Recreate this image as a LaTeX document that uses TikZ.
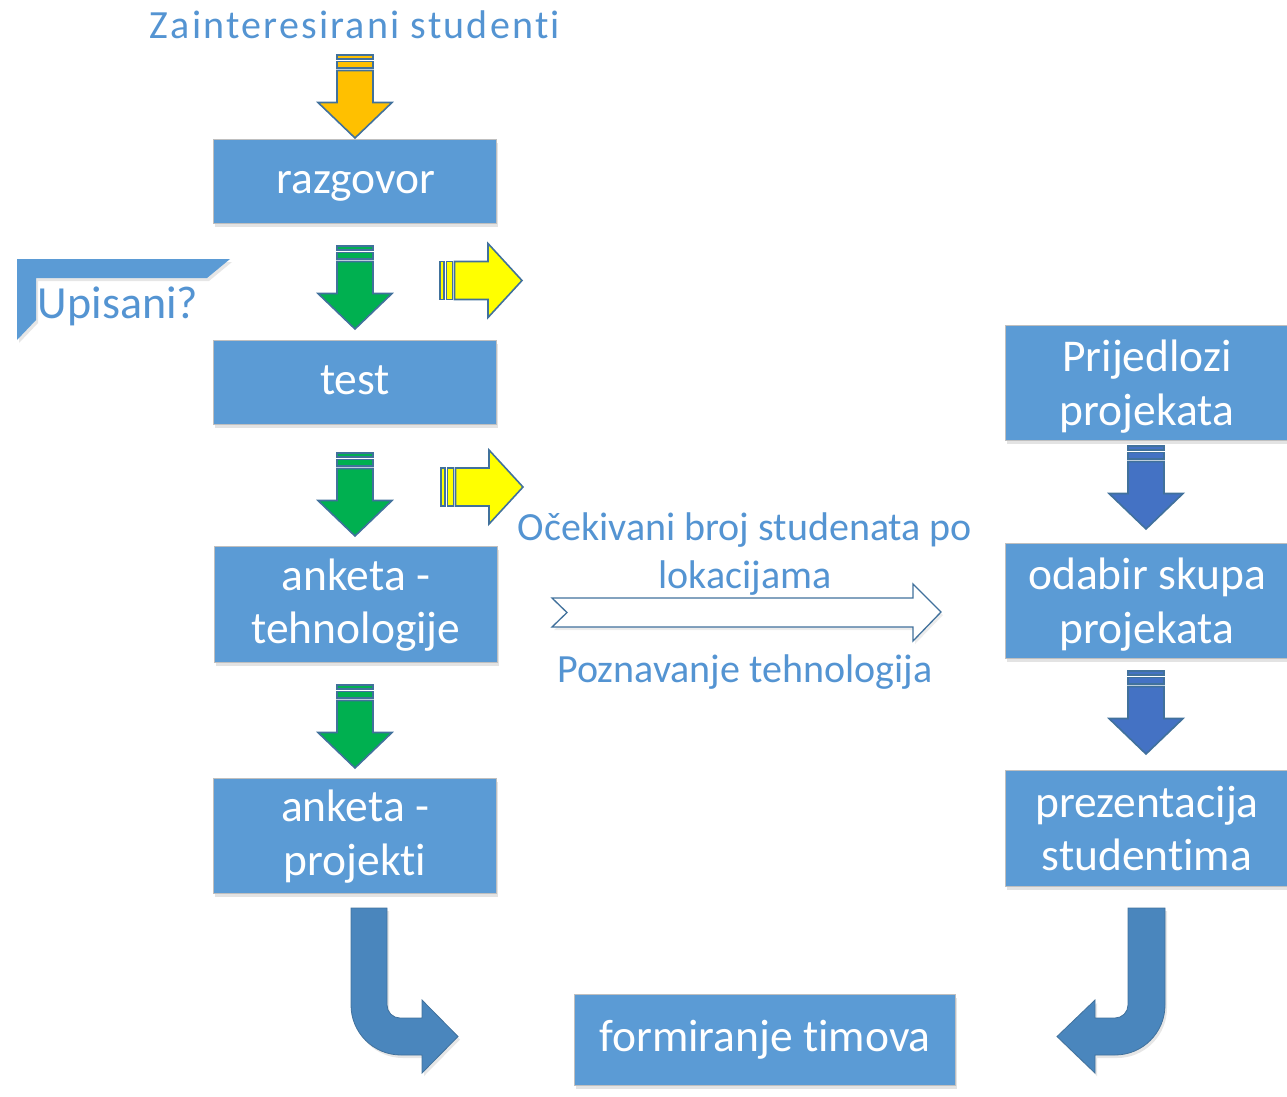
\documentclass[tikz,border=0pt]{standalone}
\usepackage{fontspec}
\setmainfont{Carlito}[Ligatures=NoCommon]
\newfontfamily\titlefont[LetterSpace=5.5,Ligatures=NoCommon]{Carlito}
\usetikzlibrary{shadows}
\definecolor{boxblue}{RGB}{91,155,213}
\definecolor{txtblue}{RGB}{84,148,210}
\definecolor{edgeblue}{RGB}{65,113,156}
\definecolor{orangefill}{RGB}{255,192,0}
\definecolor{greenfill}{RGB}{0,176,80}
\definecolor{yellowfill}{RGB}{255,255,0}
\definecolor{darkblue}{RGB}{68,114,196}
\definecolor{uturn}{RGB}{74,134,189}
\begin{document}
\begin{tikzpicture}[x=1pt,y=-1pt,
  stepbox/.style={draw=black!25,line width=0.8pt,fill=boxblue,
    minimum width=283pt,inner sep=0pt,
    drop shadow={opacity=0.22,shadow xshift=2pt,shadow yshift=-4pt}},
  boxtext/.style={text=white,anchor=base,inner sep=0pt,
    font=\fontsize{45.5}{50}\selectfont},
  label/.style={text=txtblue,anchor=base,inner sep=0pt},
  blockarrow/.style={draw=edgeblue,line width=1.6pt,line join=miter},
  downarrow/.pic={
    \fill[#1,draw=edgeblue,line width=1.6pt] (-18,0) rectangle (18,4);
    \fill[#1,draw=edgeblue,line width=1.6pt] (-18,6.5) rectangle (18,13);
    \path[blockarrow,fill=#1] (-18,15.5) -- (18,15.5) -- (18,47.5) -- (37,47.5)
      -- (0,83) -- (-37,47.5) -- (-18,47.5) -- cycle;
  },
  rightarrow/.pic={
    \fill[#1,draw=edgeblue,line width=1.6pt] (0,-19) rectangle (4,19);
    \fill[#1,draw=edgeblue,line width=1.6pt] (6.5,-19) rectangle (12.5,19);
    \path[blockarrow,fill=#1] (14.5,-19) -- (48,-19) -- (48,-37) -- (82,0)
      -- (48,37) -- (48,19) -- (14.5,19) -- cycle;
  }]
\useasboundingbox (0,0) rectangle (1287,1096);

% left column boxes
\node[stepbox,minimum height=84pt] (razgovor) at (354.5,181) {};
\node[stepbox,minimum height=84pt] (test) at (354.5,382) {};
\node[stepbox,minimum height=116pt] (tehn) at (355.5,604) {};
\node[stepbox,minimum height=115pt] (proj) at (354.5,835.5) {};

% right column boxes, cut by the page edge
\begin{scope}
\clip (0,0) rectangle (1287,1096);
\node[stepbox,minimum height=115pt,minimum width=284pt] (prijedlozi) at (1147,382.5) {};
\node[stepbox,minimum height=115pt,minimum width=284pt] (odabir) at (1147,600.5) {};
\node[stepbox,minimum height=116pt,minimum width=284pt] (prez) at (1147,828) {};
\end{scope}

% bottom box
\node[stepbox,minimum width=381pt,minimum height=91pt] (timovi) at (764.5,1039.5) {};

% box texts, set on their baselines
\node[boxtext] (razgovorT) at (356,193.3) {razgovor};
\node[boxtext] (testT) at (355,394.3) {test};
\node[boxtext] (tehnT1) at (356,590) {anketa -};
\node[boxtext] (tehnT2) at (356,643.5) {tehnologije};
\node[boxtext] (projT1) at (355,821.5) {anketa -};
\node[boxtext] (projT2) at (355,875) {projekti};
\node[boxtext] (prijedloziT1) at (1147,371.7) {Prijedlozi};
\node[boxtext] (prijedloziT2) at (1147,425) {projekata};
\node[boxtext] (odabirT1) at (1147,589.7) {odabir skupa};
\node[boxtext] (odabirT2) at (1147,643) {projekata};
\node[boxtext] (prezT1) at (1147,817.2) {prezentacija};
\node[boxtext] (prezT2) at (1147,870.5) {studentima};
\node[boxtext] (timoviT) at (765,1051.8) {formiranje timova};

% heading
\node[label,font=\titlefont\fontsize{40}{48}\selectfont] (title) at (355,38) {Zainteresirani studenti};

% striped arrows
\pic at (355,55) {downarrow=orangefill};
\pic at (355,246) {downarrow=greenfill};
\pic at (355,453) {downarrow=greenfill};
\pic at (355,685) {downarrow=greenfill};
\pic at (1146,446) {downarrow=darkblue};
\pic at (1146,671) {downarrow=darkblue};
\pic at (440,280.5) {rightarrow=yellowfill};
\pic at (441,487) {rightarrow=yellowfill};

% half frame with the question
\fill[boxblue,drop shadow={opacity=0.2,shadow xshift=2pt,shadow yshift=-3pt}]
  (17,259) -- (230,259) -- (207,278) -- (36,278) -- (36,320) -- (17,340) -- cycle;
\node[label,font=\fontsize{46}{54}\selectfont] (upisani) at (118,318) {Upisani?};

% hollow arrow with its labels
\path[draw=edgeblue,line width=1.3pt,fill=white,
  drop shadow={opacity=0.15,shadow xshift=2pt,shadow yshift=-3pt}]
  (552,598) -- (913,598) -- (913,584) -- (941,612) -- (913,641) -- (913,627)
  -- (552,627) -- (567,612.5) -- cycle;
\node[label,font=\fontsize{40}{48}\selectfont] (ocekivani1) at (745,540.7) {Očekivani broj studenata po};
\node[label,font=\fontsize{40}{48}\selectfont] (ocekivani2) at (745,588.3) {lokacijama};
\node[label,font=\fontsize{40}{48}\selectfont] (poznavanje) at (745,682) {Poznavanje tehnologija};

% curved arrows into the team box
\path[fill=uturn,draw=edgeblue,line width=0.8pt,
  drop shadow={opacity=0.2,shadow xshift=2pt,shadow yshift=-3pt}]
  (351,908) -- (387,908) -- (387,1005) arc[start angle=180,end angle=90,radius=13]
  -- (422,1018) -- (422,1000) -- (458,1036.5) -- (422,1073) -- (422,1055)
  -- (401,1055) arc[start angle=90,end angle=180,radius=50] -- cycle;
\path[fill=uturn,draw=edgeblue,line width=0.8pt,
  drop shadow={opacity=0.2,shadow xshift=2pt,shadow yshift=-3pt}]
  (1165,908) -- (1128,908) -- (1128,1005) arc[start angle=0,end angle=90,radius=13]
  -- (1095,1018) -- (1095,1000) -- (1057,1036.5) -- (1095,1073) -- (1095,1055)
  -- (1115,1055) arc[start angle=90,end angle=0,radius=50] -- cycle;
\end{tikzpicture}
\end{document}
